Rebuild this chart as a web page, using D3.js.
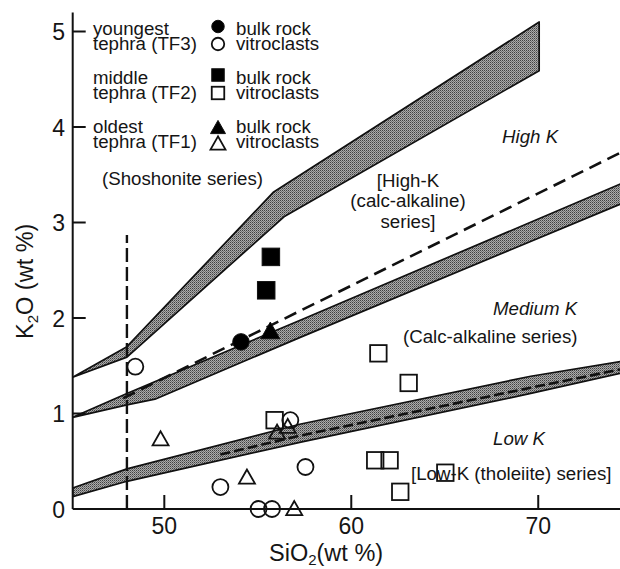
<!DOCTYPE html>
<html><head><meta charset="utf-8">
<script src="https://cdn.jsdelivr.net/npm/d3@7"></script>
<style>
body{margin:0;background:#fff}
svg{display:block}
text{font-family:"Liberation Sans",Arial,Helvetica,sans-serif;fill:#151515}
</style>
</head><body>
<svg id="chart" width="620" height="569"></svg>
<script>
// ---------- data ----------
const xTicks = [50, 60, 70];
const yTicks = [0, 1, 2, 3, 4, 5];

// tephra samples [SiO2, K2O]
const tf3Bulk  = [[54.1, 1.75]];
const tf3Vitro = [[48.45, 1.49], [56.74, 0.93], [57.55, 0.44], [53.0, 0.23], [55.04, 0.0], [55.76, 0.0]];
const tf2Bulk  = [[55.7, 2.64], [55.45, 2.29]];
const tf2Vitro = [[55.9, 0.93], [61.45, 1.63], [63.07, 1.32], [61.28, 0.51], [62.05, 0.51], [62.62, 0.18], [65.03, 0.38]];
const tf1Bulk  = [[55.67, 1.87]];
const tf1Vitro = [[49.8, 0.74], [54.42, 0.34], [56.03, 0.81], [56.6, 0.87], [56.95, 0.01]];

// boundary bands (upper edge, lower edge)
const shoTop    = [[45.1, 1.38], [48, 1.70], [55.85, 3.32], [70.05, 5.10]];
const shoBottom = [[45.1, 1.38], [48, 1.59], [56.4, 3.06], [70.05, 4.59]];
const hkTop     = [[45.1, 0.96], [48, 1.21], [57.3, 1.98], [74.6, 3.42]];
const hkBottom  = [[45.1, 0.96], [48, 1.09], [49.5, 1.15], [57.3, 1.80], [74.6, 3.21]];
const lkTop     = [[45.1, 0.22], [48, 0.42], [57.3, 0.89], [69.6, 1.39], [74.6, 1.55]];
const lkBottom  = [[45.1, 0.13], [48, 0.29], [57.3, 0.70], [69.6, 1.21], [74.6, 1.43]];

// dashed lines
const highKDash = [[47.8, 1.16], [74.6, 3.75]];
const lowKDash  = [[53.0, 0.57], [57.3, 0.77], [69.6, 1.27], [74.6, 1.47]];
const basaltDash = [[48, 0], [48, 2.87]];

// legend rows
const legendGroups = [
  {l1: "youngest", l2: "tephra (TF3)", shape: "circle"},
  {l1: "middle",   l2: "tephra (TF2)", shape: "square"},
  {l1: "oldest",   l2: "tephra (TF1)", shape: "triangle"}
];

// ---------- scales ----------
const svg = d3.select("#chart");
const x = d3.scaleLinear().domain([45.1, 74.4]).range([72.7, 620.5]);
const y = d3.scaleLinear().domain([0, 5.2]).range([509, 12.4]);

// pattern for stippled bands
const defs = svg.append("defs");
const pat = defs.append("pattern").attr("id", "stip").attr("width", 2).attr("height", 2)
  .attr("patternUnits", "userSpaceOnUse");
pat.append("rect").attr("width", 2).attr("height", 2).attr("fill", "#ababab");
pat.append("rect").attr("width", 1).attr("height", 1).attr("fill", "#404040");
pat.append("rect").attr("x", 1).attr("y", 1).attr("width", 1).attr("height", 1).attr("fill", "#707070");
defs.append("clipPath").attr("id", "plotclip").append("rect")
  .attr("x", 72.7).attr("y", 0).attr("width", 560).attr("height", 509);

const line = d3.line().x(d => x(d[0])).y(d => y(d[1]));
const plot = svg.append("g").attr("clip-path", "url(#plotclip)");

function band(top, bottom) {
  const poly = top.concat(bottom.slice().reverse());
  plot.append("path").attr("d", line(poly) + "Z")
    .attr("fill", "url(#stip)").attr("stroke", "#111").attr("stroke-width", 1.7)
    .attr("stroke-linejoin", "round");
}
band(shoTop, shoBottom);
band(hkTop, hkBottom);
band(lkTop, lkBottom);

plot.append("path").attr("d", line(highKDash)).attr("fill", "none")
  .attr("stroke", "#111").attr("stroke-width", 2.6).attr("stroke-dasharray", "13,7");
plot.append("path").attr("d", line(lowKDash)).attr("fill", "none")
  .attr("stroke", "#111").attr("stroke-width", 2.6).attr("stroke-dasharray", "10,4");
svg.append("path").attr("d", line(basaltDash)).attr("fill", "none")
  .attr("stroke", "#111").attr("stroke-width", 2.4).attr("stroke-dasharray", "14,5");

// ---------- axes ----------
svg.append("line").attr("x1", x(45.1)).attr("x2", x(45.1)).attr("y1", y(5.2)).attr("y2", y(0))
  .attr("stroke", "#111").attr("stroke-width", 2);
svg.append("line").attr("x1", x(45.1)).attr("x2", 620).attr("y1", y(0)).attr("y2", y(0))
  .attr("stroke", "#111").attr("stroke-width", 2);

yTicks.forEach(t => {
  if (t > 0) svg.append("line").attr("x1", x(45.1)).attr("x2", x(45.1) + 13)
    .attr("y1", y(t)).attr("y2", y(t)).attr("stroke", "#111").attr("stroke-width", 2);
  svg.append("text").attr("x", 65).attr("y", y(t) + 8.5).attr("text-anchor", "end")
    .attr("font-size", 23).text(t);
});
xTicks.forEach(t => {
  svg.append("line").attr("x1", x(t)).attr("x2", x(t)).attr("y1", y(0)).attr("y2", y(0) - 14)
    .attr("stroke", "#111").attr("stroke-width", 2);
  svg.append("text").attr("x", x(t)).attr("y", 533.5).attr("text-anchor", "middle")
    .attr("font-size", 23).text(t);
});

// axis titles
const xt = svg.append("text").attr("x", 269).attr("y", 561).attr("font-size", 23.5);
xt.append("tspan").text("SiO");
xt.append("tspan").attr("font-size", 15).attr("dy", 4).text("2");
xt.append("tspan").attr("dy", -4).text("(wt %)");

const yt = svg.append("text").attr("transform", "translate(33,339) rotate(-90)").attr("font-size", 23.5);
yt.append("tspan").text("K");
yt.append("tspan").attr("font-size", 15).attr("dy", 5).text("2");
yt.append("tspan").attr("dy", -5).text("O (wt %)");

// ---------- markers ----------
function drawMarker(g, shape, cx, cy, filled, s) {
  let el;
  if (shape === "circle") {
    el = g.append("circle").attr("cx", cx).attr("cy", cy).attr("r", s / 2);
  } else if (shape === "square") {
    el = g.append("rect").attr("x", cx - s / 2).attr("y", cy - s / 2).attr("width", s).attr("height", s);
  } else {
    const w = s, h = s * 0.88;
    el = g.append("path").attr("d", `M${cx},${cy - h / 2}L${cx - w / 2},${cy + h / 2}L${cx + w / 2},${cy + h / 2}Z`);
  }
  el.attr("fill", filled ? "#000" : "none").attr("stroke", "#111").attr("stroke-width", filled ? 1 : 1.8);
}

const mg = svg.append("g");
const series = [
  [tf3Vitro, "circle", false, 16], [tf2Vitro, "square", false, 16.5], [tf1Vitro, "triangle", false, 16],
  [tf3Bulk, "circle", true, 16.5], [tf2Bulk, "square", true, 17.5], [tf1Bulk, "triangle", true, 19]
];
series.forEach(([data, shape, filled, s]) => {
  data.forEach(d => drawMarker(mg, shape, x(d[0]), y(d[1]), filled, s));
});

// ---------- legend ----------
const lg = svg.append("g");
const rowY = [[35, 50], [84, 99], [133, 148]];
const mkY = [[26.5, 44], [75, 93], [127, 143]];
legendGroups.forEach((g, i) => {
  lg.append("text").attr("x", 93).attr("y", rowY[i][0]).attr("font-size", 18.7).text(g.l1);
  lg.append("text").attr("x", 93).attr("y", rowY[i][1]).attr("font-size", 18.7).text(g.l2);
  drawMarker(lg, g.shape, 218, mkY[i][0], true, g.shape === "triangle" ? 15 : 12.5);
  drawMarker(lg, g.shape, 218, mkY[i][1], false, g.shape === "triangle" ? 15 : 12.5);
  lg.append("text").attr("x", 236).attr("y", rowY[i][0]).attr("font-size", 18.7).text("bulk rock");
  lg.append("text").attr("x", 236).attr("y", rowY[i][1]).attr("font-size", 18.7).text("vitroclasts");
});

// ---------- annotations ----------
function note(txt, xx, yy, opts = {}) {
  svg.append("text").attr("x", xx).attr("y", yy).attr("font-size", 18.7)
    .attr("text-anchor", opts.anchor || "start")
    .attr("font-style", opts.italic ? "italic" : "normal").text(txt);
}
note("(Shoshonite series)", 102, 185);
note("[High-K", 408, 187, {anchor: "middle"});
note("(calc-alkaline)", 408, 207, {anchor: "middle"});
note("series]", 408, 228, {anchor: "middle"});
note("High K", 502, 143, {italic: true});
note("Medium K", 493, 315, {italic: true});
note("(Calc-alkaline series)", 403, 343);
note("Low K", 493, 445, {italic: true});
note("[Low-K (tholeiite) series]", 411, 480);
</script>
</body></html>
